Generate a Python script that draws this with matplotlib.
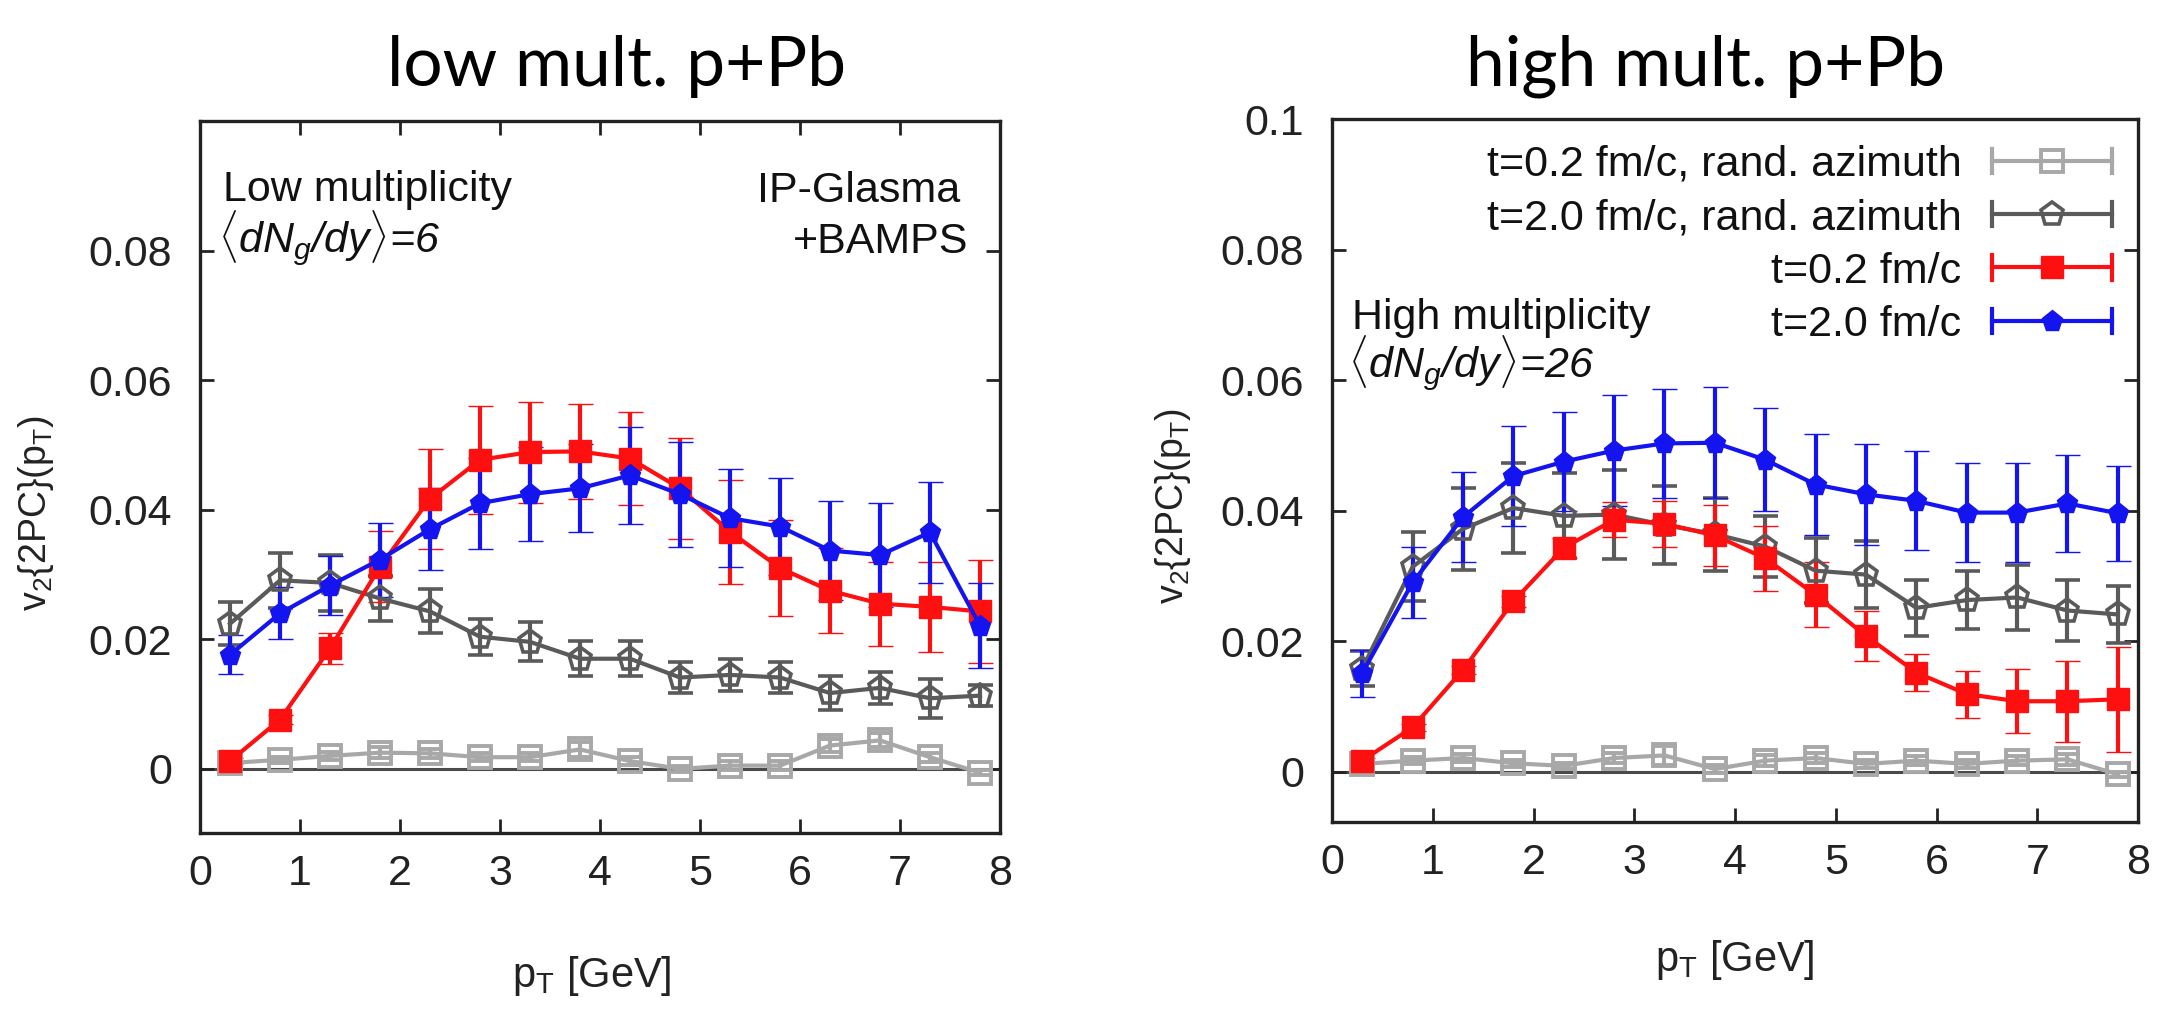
import matplotlib
matplotlib.use("Agg")
import matplotlib.pyplot as plt
from matplotlib.legend_handler import HandlerBase
from matplotlib.lines import Line2D

plt.rcParams['font.family'] = ['Liberation Sans', 'DejaVu Sans']
plt.rcParams['mathtext.fontset'] = 'custom'
plt.rcParams['mathtext.rm'] = 'Liberation Sans'
plt.rcParams['mathtext.it'] = 'Liberation Sans:italic'
plt.rcParams['mathtext.bf'] = 'Liberation Sans:bold'

# transverse momentum bins [GeV]
pt = [0.3, 0.8, 1.3, 1.8, 2.3, 2.8, 3.3, 3.8, 4.3, 4.8, 5.3, 5.8, 6.3, 6.8, 7.3, 7.8]

# low multiplicity p+Pb
low_rand02 = [0.0009, 0.0014, 0.0020, 0.0025, 0.0024, 0.0018, 0.0018, 0.0030,
              0.0012, 0.0000, 0.0005, 0.0005, 0.0036, 0.0044, 0.0018, -0.0006]
low_rand02_err = [0.0005, 0.0005, 0.0006, 0.0008, 0.0007, 0.0006, 0.0006, 0.0011,
                  0.0006, 0.0005, 0.0007, 0.0007, 0.0010, 0.0011, 0.0007, 0.0004]
low_rand20 = [0.0224, 0.0291, 0.0287, 0.0263, 0.0243, 0.0204, 0.0196, 0.0170,
              0.0170, 0.0141, 0.0145, 0.0141, 0.0117, 0.0125, 0.0109, 0.0113]
low_rand20_err = [0.0033, 0.0042, 0.0043, 0.0034, 0.0034, 0.0028, 0.0030, 0.0027,
                  0.0027, 0.0024, 0.0025, 0.0024, 0.0026, 0.0025, 0.0030, 0.0016]
low_t02 = [0.0012, 0.0076, 0.0186, 0.0312, 0.0417, 0.0477, 0.0489, 0.0490,
           0.0479, 0.0433, 0.0366, 0.0310, 0.0275, 0.0255, 0.0250, 0.0243]
low_t02_err = [0.0005, 0.0007, 0.0024, 0.0055, 0.0077, 0.0083, 0.0078, 0.0073,
               0.0072, 0.0078, 0.0080, 0.0074, 0.0066, 0.0065, 0.0069, 0.0079]
low_t20 = [0.0176, 0.0240, 0.0283, 0.0323, 0.0370, 0.0410, 0.0424, 0.0433,
           0.0453, 0.0424, 0.0387, 0.0374, 0.0337, 0.0330, 0.0365, 0.0221]
low_t20_err = [0.0030, 0.0040, 0.0045, 0.0057, 0.0063, 0.0070, 0.0073, 0.0068,
               0.0075, 0.0081, 0.0076, 0.0075, 0.0076, 0.0080, 0.0078, 0.0066]

# high multiplicity p+Pb
high_rand02 = [0.0012, 0.0017, 0.0021, 0.0013, 0.0009, 0.0021, 0.0025, 0.0004,
               0.0017, 0.0021, 0.0012, 0.0017, 0.0012, 0.0017, 0.0019, -0.0004]
high_rand02_err = [0.0005, 0.0005, 0.0006, 0.0005, 0.0005, 0.0007, 0.0015, 0.0006,
                   0.0008, 0.0007, 0.0006, 0.0007, 0.0006, 0.0007, 0.0008, 0.0004]
high_rand20 = [0.0158, 0.0314, 0.0372, 0.0404, 0.0392, 0.0394, 0.0378, 0.0364,
               0.0345, 0.0308, 0.0302, 0.0251, 0.0263, 0.0267, 0.0247, 0.0241]
high_rand20_err = [0.0027, 0.0053, 0.0063, 0.0069, 0.0065, 0.0068, 0.0060, 0.0056,
                   0.0047, 0.0050, 0.0051, 0.0043, 0.0045, 0.0050, 0.0046, 0.0044]
high_t02 = [0.0017, 0.0068, 0.0156, 0.0261, 0.0343, 0.0386, 0.0380, 0.0362,
            0.0327, 0.0271, 0.0208, 0.0152, 0.0119, 0.0108, 0.0108, 0.0111]
high_t02_err = [0.0004, 0.0005, 0.0006, 0.0008, 0.0015, 0.0027, 0.0035, 0.0047,
                0.0050, 0.0050, 0.0038, 0.0029, 0.0036, 0.0049, 0.0062, 0.0080]
high_t20 = [0.0151, 0.0290, 0.0390, 0.0453, 0.0475, 0.0492, 0.0503, 0.0504,
            0.0478, 0.0440, 0.0425, 0.0415, 0.0397, 0.0397, 0.0411, 0.0396]
high_t20_err = [0.0036, 0.0054, 0.0069, 0.0077, 0.0076, 0.0085, 0.0084, 0.0085,
                0.0079, 0.0077, 0.0077, 0.0076, 0.0076, 0.0076, 0.0075, 0.0073]

labels = ["t=0.2 fm/c, rand. azimuth", "t=2.0 fm/c, rand. azimuth",
          "t=0.2 fm/c", "t=2.0 fm/c"]
y_ticks_low = [0, 0.02, 0.04, 0.06, 0.08]
y_ticks_high = [0, 0.02, 0.04, 0.06, 0.08, 0.1]
y_tick_labels_low = ["0", "0.02", "0.04", "0.06", "0.08"]
y_tick_labels_high = ["0", "0.02", "0.04", "0.06", "0.08", "0.1"]
x_ticks = [0, 1, 2, 3, 4, 5, 6, 7, 8]

LIGHT = "#a8a8a8"
DARK = "#5a5a5a"
RED = "#ff1010"
BLUE = "#1414f0"

styles = [
    dict(color=LIGHT, marker="s", mfc="none", mec=LIGHT, ms=16, mew=2.8),
    dict(color=DARK, marker="p", mfc="none", mec=DARK, ms=17, mew=2.6),
    dict(color=RED, marker="s", mfc=RED, mec=RED, ms=16, mew=1.0),
    dict(color=BLUE, marker="p", mfc=BLUE, mec=BLUE, ms=15.5, mew=1.0),
]


class ErrbarHandler(HandlerBase):
    """Horizontal error-bar sample with end caps and a centred marker."""

    def create_artists(self, legend, orig_handle, xdescent, ydescent,
                       width, height, fontsize, trans):
        c = orig_handle.get_color()
        lw = orig_handle.get_linewidth()
        y = height / 2.0 - ydescent
        x0 = -xdescent
        x1 = -xdescent + width
        h = 0.28 * fontsize
        arts = [
            Line2D([x0, x1], [y, y], color=c, lw=lw),
            Line2D([x0, x0], [y - h, y + h], color=c, lw=lw),
            Line2D([x1, x1], [y - h, y + h], color=c, lw=lw),
            Line2D([(x0 + x1) / 2.0], [y], ls="none",
                   marker=orig_handle.get_marker(),
                   mfc=orig_handle.get_markerfacecolor(),
                   mec=orig_handle.get_markeredgecolor(),
                   ms=orig_handle.get_markersize(),
                   mew=orig_handle.get_markeredgewidth()),
        ]
        for a in arts:
            a.set_transform(trans)
        return arts


def draw_panel(ax, series, yticks, yticklabels, ylim, top_ticks):
    handles = []
    for (vals, errs), st in zip(series, styles):
        cont = ax.errorbar(pt, vals, yerr=errs, color=st["color"], lw=3,
                           marker=st["marker"], mfc=st["mfc"], mec=st["mec"],
                           ms=st["ms"], mew=st["mew"], elinewidth=3,
                           capsize=9, capthick=3)
        handles.append(cont[0])
    ax.axhline(0, color="#4a4a4a", lw=2.2, zorder=1)
    ax.set_xlim(0, 8)
    ax.set_ylim(*ylim)
    ax.set_xticks(x_ticks)
    ax.set_xticklabels([str(v) for v in x_ticks])
    ax.set_yticks(yticks)
    ax.set_yticklabels(yticklabels)
    ax.tick_params(axis="both", direction="in", length=10, width=2,
                   labelsize=31, colors="#222222", right=True, top=top_ticks)
    ax.tick_params(axis="x", pad=15)
    ax.tick_params(axis="y", pad=20)
    for sp in ax.spines.values():
        sp.set_linewidth(2.4)
        sp.set_color("#222222")
    ax.set_ylabel(r"$\mathregular{v_2\{2PC\}(p_T)}$", fontsize=27, color="#222222")
    ax.set_xlabel(r"$\mathregular{p_T}$ [GeV]", fontsize=30, color="#222222")
    return handles


W, H = 2163, 1011
fig = plt.figure(figsize=(W / 100, H / 100), dpi=100)
ax1 = fig.add_axes([200 / W, 1 - 833 / H, 800 / W, 712 / H])
ax2 = fig.add_axes([1332 / W, 1 - 822 / H, 806 / W, 703 / H])

draw_panel(ax1,
           [(low_rand02, low_rand02_err), (low_rand20, low_rand20_err),
            (low_t02, low_t02_err), (low_t20, low_t20_err)],
           y_ticks_low, y_tick_labels_low, (-0.0099, 0.1), True)
hs = draw_panel(ax2,
                [(high_rand02, high_rand02_err), (high_rand20, high_rand20_err),
                 (high_t02, high_t02_err), (high_t20, high_t20_err)],
                y_ticks_high, y_tick_labels_high, (-0.0077, 0.1), False)

ax1.yaxis.set_label_coords(-0.18, 0.45)
ax2.yaxis.set_label_coords(-0.173, 0.45)
ax1.xaxis.set_label_coords(0.49, -0.17)
ax2.xaxis.set_label_coords(0.5, -0.165)

txt = dict(fontsize=31, color="#111111")
ax1.text(0.029, 0.888, "Low multiplicity", transform=ax1.transAxes, **txt)
ax1.text(0.022, 0.815, r"$\langle$dN$_\mathit{g}$/dy$\rangle$=6", style="italic",
         transform=ax1.transAxes, **txt)
ax1.text(0.95, 0.886, "IP-Glasma", ha="right", transform=ax1.transAxes, **txt)
ax1.text(0.96, 0.815, "+BAMPS", ha="right", transform=ax1.transAxes, **txt)

ax2.text(0.025, 0.701, "High multiplicity", transform=ax2.transAxes, **txt)
ax2.text(0.02, 0.632, r"$\langle$dN$_\mathit{g}$/dy$\rangle$=26", style="italic",
         transform=ax2.transAxes, **txt)

leg = ax2.legend(hs, labels, handler_map={Line2D: ErrbarHandler()},
                 loc="upper right", bbox_to_anchor=(1.0, 1.0),
                 frameon=False, markerfirst=False, fontsize=31,
                 handlelength=2.8, handletextpad=0.7, labelspacing=0.31,
                 borderpad=0.3, borderaxespad=0.3)
for t in leg.get_texts():
    t.set_color("#111111")

title_font = ["Lato", "Liberation Sans"]
fig.text(617 / W, 1 - 86 / H, "low mult. p+Pb", ha="center", va="baseline",
         fontsize=50, family=title_font, weight="normal", color="#000000")
fig.text(1706 / W, 1 - 86 / H, "high mult. p+Pb", ha="center", va="baseline",
         fontsize=50, family=title_font, weight="normal", color="#000000")

fig.savefig("out.png", dpi=100)
